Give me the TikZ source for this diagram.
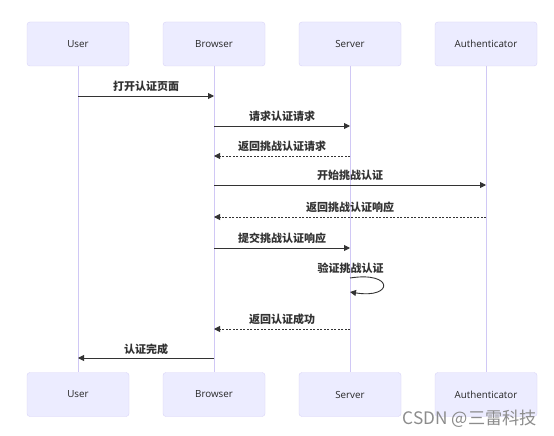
\documentclass[tikz,border=0pt]{standalone}
\usepackage{fontspec}
\setmainfont{Open Sans}
\newfontfamily\cjk{Noto Sans CJK SC}
\usetikzlibrary{arrows.meta}
\definecolor{actfill}{HTML}{ECECFF}
\definecolor{actline}{HTML}{D9D4F7}
\definecolor{lifel}{HTML}{D0C8F5}
\definecolor{msg}{HTML}{333333}
\tikzset{
  actor/.style={draw=actline, fill=actfill, rounded corners=3pt, minimum width=102pt, minimum height=44pt, inner sep=0pt, font=\fontsize{9.8}{11}\selectfont, text=black!85},
  life/.style={draw=lifel, line width=0.8pt},
  msgline/.style={draw=msg, line width=0.9pt, -{Triangle[length=6pt,width=6pt]}},
  reply/.style={msgline, dash pattern=on 2pt off 1.5pt},
  lbl/.style={font=\cjk\bfseries\fontsize{11}{12}\selectfont, text=msg, inner sep=0pt}
}
\begin{document}
\begin{tikzpicture}[x=1pt,y=-1pt]
\useasboundingbox[fill=white] (0,0) rectangle (554,436);
% actors
\node[actor] (u1) at (78,44) {User};
\node[actor] (b1) at (214,44) {Browser};
\node[actor] (s1) at (350,44) {Server};
\node[actor] (a1) at (486,44) {Authenticator};
\node[actor] (u2) at (78,394.5) {User};
\node[actor] (b2) at (214,394.5) {Browser};
\node[actor] (s2) at (350,394.5) {Server};
\node[actor] (a2) at (486,394.5) {Authenticator};
% lifelines
\draw[life] (u1.south) -- (u2.north);
\draw[life] (b1.south) -- (b2.north);
\draw[life] (s1.south) -- (s2.north);
\draw[life] (a1.south) -- (a2.north);
% anchor coordinates
\coordinate (m1u) at (78,96);  \coordinate (m1b) at (214,96);
\coordinate (m2b) at (214,126); \coordinate (m2s) at (350,126);
\coordinate (m3s) at (350,156); \coordinate (m3b) at (214,156);
\coordinate (m4b) at (214,185); \coordinate (m4a) at (486,185);
\coordinate (m5a) at (486,217); \coordinate (m5b) at (214,217);
\coordinate (m6b) at (214,248); \coordinate (m6s) at (350,248);
\coordinate (m7a) at (350,278); \coordinate (m7b) at (350,292);
\coordinate (m8s) at (350,329); \coordinate (m8b) at (214,329);
\coordinate (m9b) at (214,358); \coordinate (m9u) at (78,358);
% messages
\draw[msgline] (m1u) -- (m1b);
\node[lbl] (l1) at (146,86) {打开认证页面};
\draw[msgline] (m2b) -- (m2s);
\node[lbl] (l2) at (282,116.5) {请求认证请求};
\draw[reply] (m3s) -- (m3b);
\node[lbl] (l3) at (282,146.5) {返回挑战认证请求};
\draw[msgline] (m4b) -- (m4a);
\node[lbl] (l4) at (350,175.5) {开始挑战认证};
\draw[reply] (m5a) -- (m5b);
\node[lbl] (l5) at (350,207) {返回挑战认证响应};
\draw[msgline] (m6b) -- (m6s);
\node[lbl] (l6) at (282,238) {提交挑战认证响应};
\draw[msgline] (m7a) .. controls (394,271) and (394,299) .. (m7b);
\node[lbl] (l7) at (350.5,268) {验证挑战认证};
\draw[reply] (m8s) -- (m8b);
\node[lbl] (l8) at (282,319.5) {返回认证成功};
\draw[msgline] (m9b) -- (m9u);
\node[lbl] (l9) at (146,349) {认证完成};
% watermark
\node[font=\cjk\fontsize{17.2}{18}\selectfont, text=black!45, inner sep=0pt, anchor=east] (wm) at (537,418.5) {CSDN @三雷科技};
\end{tikzpicture}
\end{document}
